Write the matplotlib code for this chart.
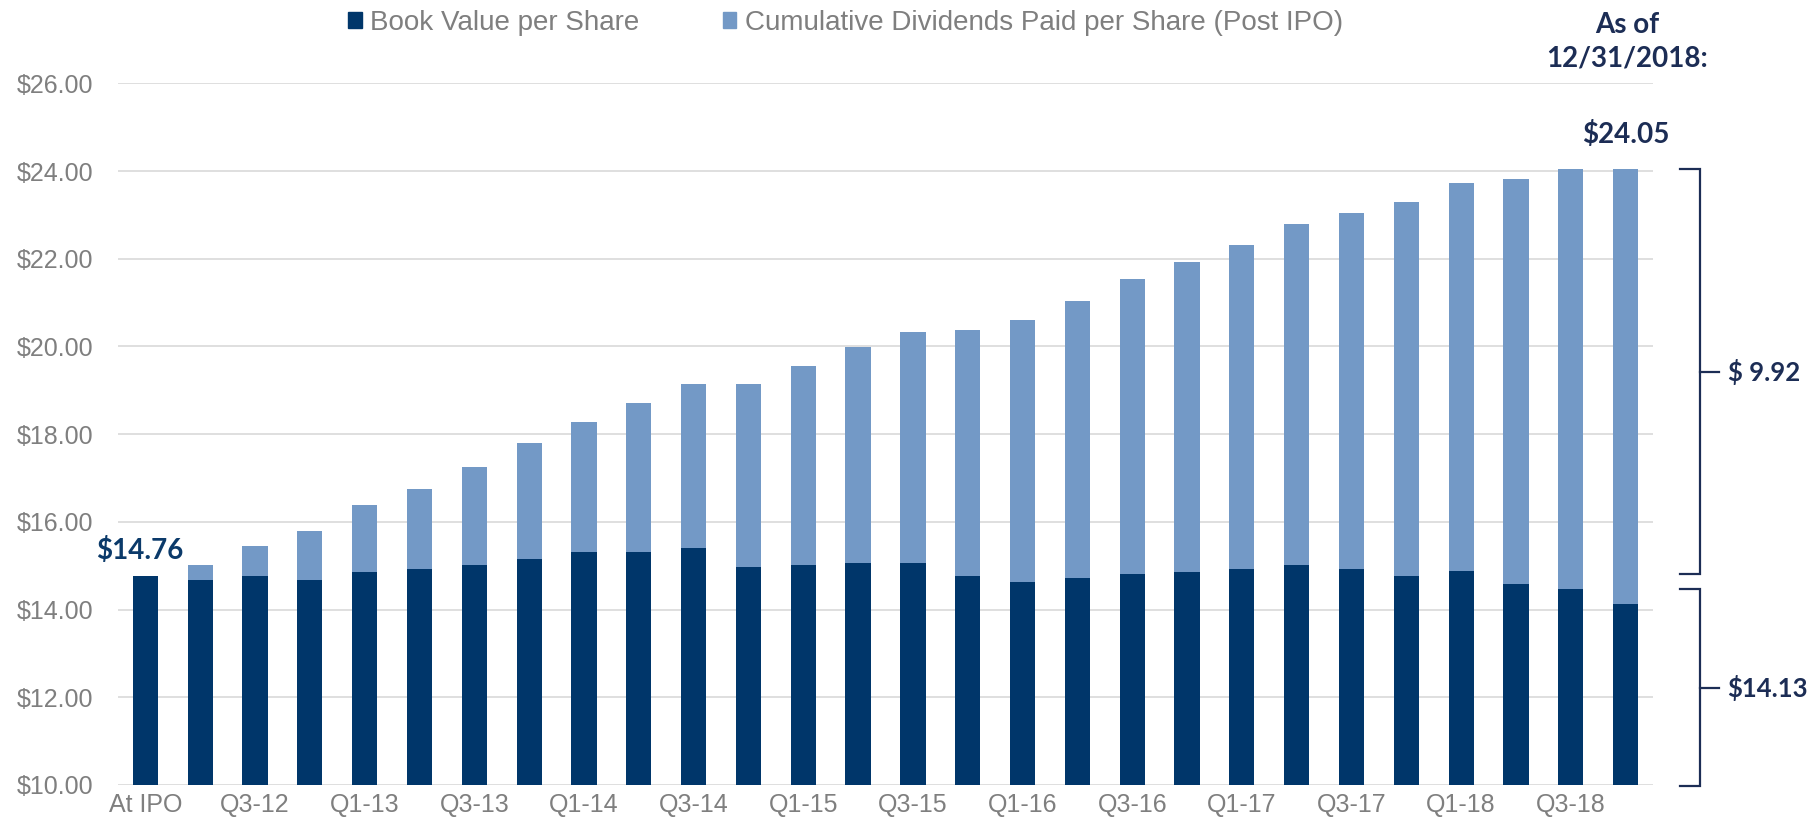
import matplotlib
matplotlib.use("Agg")
import matplotlib.pyplot as plt
from matplotlib.patches import Patch

quarters = ["At IPO", "Q2-12", "Q3-12", "Q4-12",
            "Q1-13", "Q2-13", "Q3-13", "Q4-13",
            "Q1-14", "Q2-14", "Q3-14", "Q4-14",
            "Q1-15", "Q2-15", "Q3-15", "Q4-15",
            "Q1-16", "Q2-16", "Q3-16", "Q4-16",
            "Q1-17", "Q2-17", "Q3-17", "Q4-17",
            "Q1-18", "Q2-18", "Q3-18", "Q4-18"]

book_value = [14.76, 14.67, 14.77, 14.67, 14.86, 14.92, 15.02, 15.15,
              15.31, 15.31, 15.40, 14.97, 15.02, 15.06, 15.06, 14.77,
              14.63, 14.73, 14.82, 14.86, 14.92, 15.02, 14.92, 14.77,
              14.87, 14.58, 14.48, 14.13]

cum_dividends = [0.00, 0.35, 0.69, 1.12, 1.52, 1.84, 2.23, 2.64,
                 2.97, 3.40, 3.75, 4.18, 4.53, 4.92, 5.26, 5.60,
                 5.98, 6.31, 6.72, 7.06, 7.39, 7.78, 8.12, 8.52,
                 8.86, 9.24, 9.57, 9.92]

y_ticks = [10, 12, 14, 16, 18, 20, 22, 24, 26]

dark = "#00366a"
light = "#7399c6"
navy = "#1c2d55"
gray = "#7f7f7f"
grid_col = "#d9d9d9"
sans = ["Liberation Sans", "DejaVu Sans"]
bold = ["Lato", "DejaVu Sans"]

fig = plt.figure(figsize=(18.14, 8.3), dpi=100)
ax = fig.add_axes([0.06505, 0.05422, 0.84620, 0.84542])

x = list(range(len(quarters)))
ax.bar(x, book_value, width=0.46, color=dark, zorder=3)
ax.bar(x, cum_dividends, width=0.46, bottom=book_value, color=light, zorder=3)

ax.set_xlim(-0.5, len(quarters) - 0.5)
ax.set_ylim(10, 26)
ax.set_yticks(y_ticks)
ax.set_yticklabels(["$%.2f" % v for v in y_ticks], fontsize=18, color=gray, family=sans)
ax.set_xticks(x[::2])
ax.set_xticklabels(quarters[::2], fontsize=18, color=gray, family=sans)
ax.tick_params(axis="y", length=0, pad=18)
ax.tick_params(axis="x", length=0, pad=6)
ax.yaxis.grid(True, color=grid_col, linewidth=1.2, zorder=0)
ax.set_axisbelow(True)
for s in ax.spines.values():
    s.set_visible(False)

# labels on first and last bars
ax.text(-0.1, 15.34, "$%.2f" % book_value[0], ha="center", va="center",
        fontsize=20, fontweight="bold", color="#0b3a6a", family=bold)
last = len(quarters) - 1
ax.text(last, 24.84, "$%.2f" % (book_value[last] + cum_dividends[last]),
        ha="center", va="center", fontsize=20, fontweight="bold", color=navy, family=bold)

fig.text(0.897, 0.970, "As of", ha="center", va="center",
         fontsize=20, fontweight="bold", color=navy, family=bold)
fig.text(0.897, 0.930, "12/31/2018:", ha="center", va="center",
         fontsize=20, fontweight="bold", color=navy, family=bold)

# brackets on the right
def bracket(y_top, y_bot, label):
    x0, x1, x2 = 27.99, 28.36, 28.71
    ax.plot([x0, x1, x1, x0], [y_top, y_top, y_bot, y_bot], color=navy,
            linewidth=1.6, clip_on=False, solid_joinstyle="miter")
    mid = (y_top + y_bot) / 2
    ax.plot([x1, x2], [mid, mid], color=navy, linewidth=1.6, clip_on=False)
    ax.text(28.86, mid, label, ha="left", va="center", fontsize=18.5,
            fontweight="bold", color=navy, family=bold, clip_on=False)

total_last = book_value[last] + cum_dividends[last]
bracket(total_last, 14.8, "$ %.2f" % cum_dividends[last])
bracket(14.47, 9.97, "$%.2f" % book_value[last])

handles = [Patch(color=dark, label="Book Value per Share"),
           Patch(color=light, label="Cumulative Dividends Paid per Share (Post IPO)")]
fig.legend(handles=handles, loc="center", bbox_to_anchor=(0.466, 0.972), ncol=2,
           frameon=False, prop={"family": sans, "size": 20}, labelcolor=gray,
           handlelength=0.5, handleheight=0.5, handletextpad=0.3, columnspacing=3.0)

fig.savefig("out.png", dpi=100)
